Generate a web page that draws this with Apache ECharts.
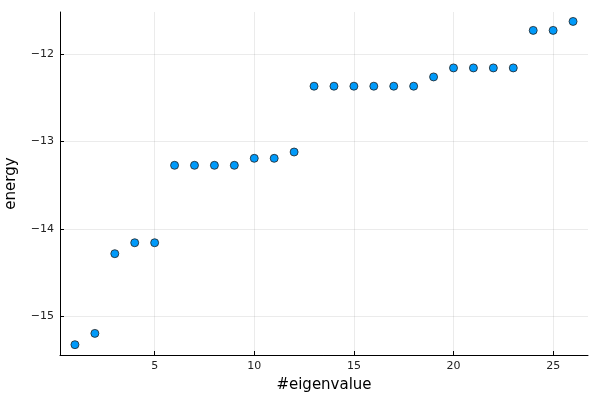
<!DOCTYPE html>
<html>
<head>
<meta charset="utf-8">
<script src="https://cdn.jsdelivr.net/npm/echarts@6/dist/echarts.min.js"></script>
<style>html,body{margin:0;padding:0;background:#fff}#c{width:600px;height:400px}</style>
</head>
<body>
<div id="c"></div>
<script>
const eigenIndex = [1,2,3,4,5,6,7,8,9,10,11,12,13,14,15,16,17,18,19,20,21,22,23,24,25,26];
const energy = [-15.322,-15.193,-14.282,-14.157,-14.157,-13.272,-13.272,-13.272,-13.272,-13.192,-13.192,-13.12,
  -12.368,-12.368,-12.368,-12.368,-12.368,-12.368,-12.262,-12.159,-12.159,-12.159,-12.159,-11.73,-11.73,-11.628];
const xTicks = [5,10,15,20,25];
const yTicks = [-15,-14,-13,-12];

const points = eigenIndex.map((x,i)=>[x, energy[i]]);
const fmt = v => String(v).replace('-', '\u2212');
const chart = echarts.init(document.getElementById('c'), null, {renderer:'canvas'});
const axisCommon = {
  axisLine:{show:true, onZero:false, lineStyle:{color:'#000', width:1}},
  axisTick:{show:true, inside:true, length:4, lineStyle:{color:'#000'}},
  splitLine:{show:true, lineStyle:{color:'rgba(0,0,0,0.08)', width:1}},
  nameTextStyle:{fontFamily:'DejaVu Sans', fontSize:15, color:'#000'}
};
chart.setOption({
  animation:false,
  grid:{left:60, right:12, top:12, bottom:45, containLabel:false, outerBoundsMode:'none'},
  xAxis:Object.assign({}, axisCommon, {
    type:'value', min:0.25, max:26.75,
    name:'#eigenvalue', nameLocation:'middle', nameGap:23,
    axisTick:Object.assign({}, axisCommon.axisTick, {customValues:xTicks}),
    axisLabel:{customValues:xTicks, formatter:fmt, fontFamily:'DejaVu Sans', fontSize:11, color:'#222', margin:6},
    splitLine:Object.assign({}, axisCommon.splitLine, {customValues:xTicks})
  }),
  yAxis:Object.assign({}, axisCommon, {
    type:'value', min:-15.44, max:-11.52,
    name:'energy', nameLocation:'middle', nameGap:41,
    axisTick:Object.assign({}, axisCommon.axisTick, {customValues:yTicks}),
    axisLabel:{customValues:yTicks, formatter:fmt, fontFamily:'DejaVu Sans', fontSize:11, color:'#222', margin:6},
    splitLine:Object.assign({}, axisCommon.splitLine, {customValues:yTicks})
  }),
  series:[{
    type:'scatter', data:points, symbol:'circle', symbolSize:8,
    itemStyle:{color:'#009AFA', borderColor:'#222', borderWidth:0.8, opacity:1}
  }]
});
</script>
</body>
</html>
